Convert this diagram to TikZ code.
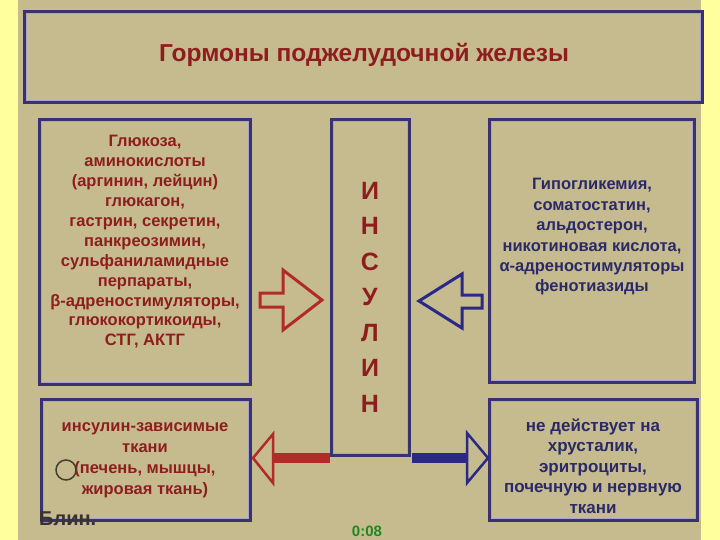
\documentclass[tikz,border=0pt]{standalone}
\usepackage{fontspec}
\setmainfont{Liberation Sans}
\definecolor{bgyellow}{HTML}{FFFF9E}
\definecolor{panel}{HTML}{C5BB8F}
\definecolor{navy}{HTML}{3A3172}
\definecolor{lav}{HTML}{A9A3CF}
\definecolor{redtxt}{HTML}{8E1E1E}
\definecolor{bluetxt}{HTML}{2B2A68}
\definecolor{arrred}{HTML}{B32A2A}
\definecolor{arrblue}{HTML}{2A2A86}
\definecolor{clockgreen}{HTML}{1E8A1E}
\begin{document}
\begin{tikzpicture}[x=1pt,y=-1pt,
  frame/.style={draw=navy, line width=3.5pt, fill=panel, inner sep=0pt},
  redlbl/.style={text=redtxt, font=\bfseries\fontsize{16.5}{19.9}\selectfont, align=center, inner sep=0pt},
  bluelbl/.style={text=bluetxt, font=\bfseries\fontsize{16.5}{20.4}\selectfont, align=center, inner sep=0pt},
  hollowred/.style={draw=arrred, line width=3pt, fill=panel, line join=miter},
  hollowblue/.style={draw=arrblue, line width=3pt, fill=panel, line join=miter}]
\useasboundingbox (0,0) rectangle (720,540);
\fill[bgyellow] (0,0) rectangle (720,540);
\fill[panel] (18,0) rectangle (701,540);
\newcommand\innerline[1]{\draw[lav, line width=1.2pt] ([shift={(3,3)}]#1.north west) rectangle ([shift={(-3,-3)}]#1.south east);}
% boxes
\node[frame, minimum width=677, minimum height=90] (title) at (363.5,57) {};
\node[frame, minimum width=210, minimum height=264] (stim) at (145,252) {};
\node[frame, minimum width=204, minimum height=262] (inhib) at (592,251) {};
\node[frame, minimum width=77, minimum height=335] (ins) at (370.5,287.5) {};
\node[frame, minimum width=208, minimum height=120] (dep) at (146,460) {};
\node[frame, minimum width=207, minimum height=120] (indep) at (593.5,460) {};
\innerline{title}\innerline{stim}\innerline{inhib}\innerline{ins}\innerline{dep}\innerline{indep}
% texts
\node[text=redtxt, font=\bfseries\fontsize{24.5}{28}\selectfont, inner sep=0pt] (ttl) at (364,55) {Гормоны поджелудочной железы};
\node[redlbl] (stimtxt) at (145,242) {Глюкоза,\\аминокислоты\\(аргинин, лейцин)\\глюкагон,\\гастрин, секретин,\\панкреозимин,\\сульфаниламидные\\перпараты,\\β-адреностимуляторы,\\глюкокортикоиды,\\СТГ, АКТГ};
\node[bluelbl] (inhibtxt) at (592,237) {Гипогликемия,\\соматостатин,\\альдостерон,\\никотиновая кислота,\\α-адреностимуляторы\\фенотиазиды};
\node[text=redtxt, font=\bfseries\fontsize{25}{35.5}\selectfont, align=center, inner sep=0pt] (instxt) at (370,297) {И\\Н\\С\\У\\Л\\И\\Н};
\node[redlbl, font=\bfseries\fontsize{16.5}{21}\selectfont] (deptxt) at (145,460) {инсулин-зависимые\\ткани\\(печень, мышцы,\\жировая ткань)};
\node[bluelbl, font=\bfseries\fontsize{17}{20.5}\selectfont] (indeptxt) at (593,466) {не действует на\\хрусталик,\\эритроциты,\\почечную и нервную\\ткани};
% middle arrows
\draw[hollowred] (260,293) -- (283,293) -- (283,270) -- (322,300) -- (283,330) -- (283,307) -- (260,307) -- cycle;
\draw[hollowblue] (482,295) -- (462,295) -- (462,274) -- (419,301) -- (462,328) -- (462,308) -- (482,308) -- cycle;
% bottom arrows
\fill[arrred] (272,453) rectangle (330,463);
\draw[hollowred, line width=2.5pt] (273,434) -- (253,458) -- (273,483) -- cycle;
\fill[arrblue] (412,453) rectangle (468,463);
\draw[hollowblue, line width=2.5pt] (467,433) -- (488,458) -- (467,483) -- cycle;
% overlay marks
\draw[black!70!olive, line width=1.5pt] (66,470) circle (10);
\node[anchor=west, text=black!80!olive, font=\bfseries\fontsize{20}{22}\selectfont, inner sep=0pt] (blin) at (39,519) {Блин.};
\node[text=clockgreen, font=\bfseries\fontsize{15}{18}\selectfont, inner sep=0pt] (clock) at (367,531) {0:08};
\end{tikzpicture}
\end{document}
